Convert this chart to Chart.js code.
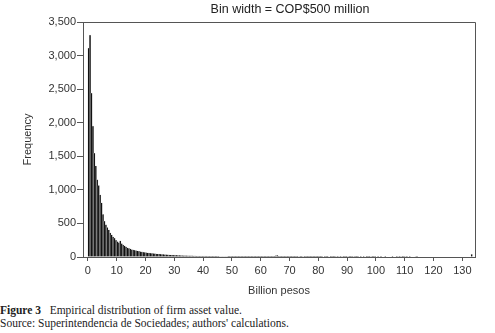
<!DOCTYPE html>
<html>
<head>
<meta charset="utf-8">
<script src="https://cdn.jsdelivr.net/npm/chart.js@4/dist/chart.umd.min.js"></script>
<style>
  html, body { margin: 0; padding: 0; background: #fff; }
  #wrap { position: relative; width: 495px; height: 333px; }
  #chart { position: absolute; left: 0; top: 0; }
  .caption {
    position: absolute; left: 0; top: 304px;
    font-family: 'Liberation Serif', 'DejaVu Serif', serif;
    font-size: 11.5px; line-height: 13px; color: #222; white-space: nowrap;
  }
  .caption b { font-weight: bold; }
</style>
</head>
<body>
<div id="wrap">
  <canvas id="chart" width="495" height="300"></canvas>
  <div class="caption">
    <div><b>Figure 3</b>&nbsp;&nbsp;&nbsp;Empirical distribution of firm asset value.</div>
    <div>Source: Superintendencia de Sociedades; authors' calculations.</div>
  </div>
</div>
<script>
// Histogram data: bin width = 0.5 billion pesos, bins start at 0
const binWidth = 0.5;
const counts = [
  // 0 - 10
  3110, 3305, 2440, 1950, 1545, 1355, 1150, 1065, 925, 805, 635, 535, 480, 440, 405, 360, 330, 300, 280, 250,
  // 10 - 20
  230, 215, 240, 200, 180, 165, 150, 135, 128, 120, 110, 105, 100, 95, 90, 85, 80, 76, 72, 68,
  // 20 - 30
  65, 62, 60, 57, 54, 52, 50, 47, 45, 44, 42, 40, 38, 36, 35, 33, 32, 30, 29, 28,
  // 30 - 40
  27, 26, 25, 24, 23, 22, 21, 20, 20, 19, 18, 18, 17, 16, 16, 15, 15, 14, 14, 13,
  // 40 - 50
  13, 12, 12, 11, 11, 10, 10, 10, 9, 9, 9, 8, 8, 8, 7, 7, 7, 6, 6, 6,
  // 50 - 60
  6, 5, 5, 5, 5, 4, 4, 4, 4, 4, 3, 3, 3, 3, 3, 3, 3, 2, 2, 2,
  // 60 - 70
  3, 2, 3, 2, 2, 3, 2, 2, 2, 2, 20, 25, 2, 2, 1, 2, 1, 1, 2, 1,
  // 70 - 80
  1, 2, 1, 4, 6, 5, 8, 6, 5, 7, 6, 4, 5, 6, 3, 5, 4, 6, 3, 4,
  // 80 - 90
  1, 2, 1, 0, 2, 1, 1, 0, 1, 2, 1, 6, 8, 5, 7, 6, 8, 4, 6, 5,
  // 90 - 100
  7, 5, 6, 4, 8, 3, 2, 1, 0, 1, 0, 1, 0, 1, 4, 6, 8, 3, 5, 1,
  // 100 - 110
  0, 1, 0, 1, 0, 0, 1, 0, 0, 0, 0, 1, 0, 0, 6, 7, 5, 8, 6, 4,
  // 110 - 120
  7, 3, 0, 1, 0, 0, 0, 8, 6, 0, 0, 0, 0, 0, 0, 0, 0, 0, 0, 0,
  // 120 - 130
  0, 0, 0, 0, 0, 0, 0, 0, 0, 0, 0, 0, 0, 0, 0, 0, 0, 0, 0, 0,
  // 130 - 135
  0, 0, 0, 0, 0, 0, 40, 0, 0, 0
];
const binStarts = counts.map((c, i) => i * binWidth);
const xTicks = [0, 10, 20, 30, 40, 50, 60, 70, 80, 90, 100, 110, 120, 130];
const yTicks = [0, 500, 1000, 1500, 2000, 2500, 3000, 3500];
const titleText = 'Bin width = COP$500 million';

const axisColor = '#555';
const textColor = '#333';
const fontFamily = "'Liberation Sans', Arial, sans-serif";

// Frame (top + right) and the heading above the plot
const framePlugin = {
  id: 'frame',
  afterDraw(chart) {
    const { ctx, chartArea: a } = chart;
    ctx.save();
    ctx.strokeStyle = axisColor;
    ctx.lineWidth = 1;
    ctx.beginPath();
    ctx.moveTo(a.left, a.top + 0.5);
    ctx.lineTo(a.right + 0.5, a.top + 0.5);
    ctx.lineTo(a.right + 0.5, a.bottom);
    ctx.stroke();
    ctx.fillStyle = '#222';
    ctx.font = '12.5px ' + fontFamily;
    ctx.textAlign = 'center';
    ctx.textBaseline = 'middle';
    ctx.fillText(titleText, (a.left + a.right) / 2 + 11, 10);
    ctx.restore();
  }
};

const ctx = document.getElementById('chart');
new Chart(ctx, {
  type: 'bar',
  data: {
    datasets: [{
      data: binStarts.map((b, i) => ({ x: b + binWidth / 2, y: counts[i] })),
      backgroundColor: '#111',
      borderColor: '#c8c8c8',
      borderWidth: 0.4,
      barPercentage: 1,
      categoryPercentage: 1
    }]
  },
  options: {
    responsive: false,
    animation: false,
    layout: { padding: { top: 22, right: 20, left: 0, bottom: 0 } },
    plugins: { legend: { display: false }, tooltip: { enabled: false } },
    scales: {
      x: {
        type: 'linear',
        min: -1.7,
        max: 134.4,
        offset: false,
        grid: { display: true, drawOnChartArea: false, offset: false, tickLength: 4, color: axisColor },
        border: { display: true, color: axisColor, width: 1 },
        ticks: { color: textColor, font: { family: fontFamily, size: 11 }, padding: 3, maxRotation: 0, autoSkip: false },
        title: { display: true, text: 'Billion pesos', color: textColor, font: { family: fontFamily, size: 11 }, padding: { top: 0, bottom: 2.4 } },
        afterBuildTicks: s => { s.ticks = xTicks.map(v => ({ value: v })); },
        afterFit: s => { s.height = 43; }
      },
      y: {
        min: 0,
        max: 3500,
        grid: { display: true, drawOnChartArea: false, tickLength: 6, color: axisColor },
        border: { display: true, color: axisColor, width: 1 },
        ticks: {
          color: textColor, font: { family: fontFamily, size: 11 }, padding: 1,
          callback: v => v.toLocaleString('en-US')
        },
        title: { display: true, text: 'Frequency', color: textColor, font: { family: fontFamily, size: 11 }, padding: { top: 21.4, bottom: 0 } },
        afterBuildTicks: s => { s.ticks = yTicks.map(v => ({ value: v })); },
        afterFit: s => { s.width = 83; }
      }
    }
  },
  plugins: [framePlugin]
});
</script>
</body>
</html>
